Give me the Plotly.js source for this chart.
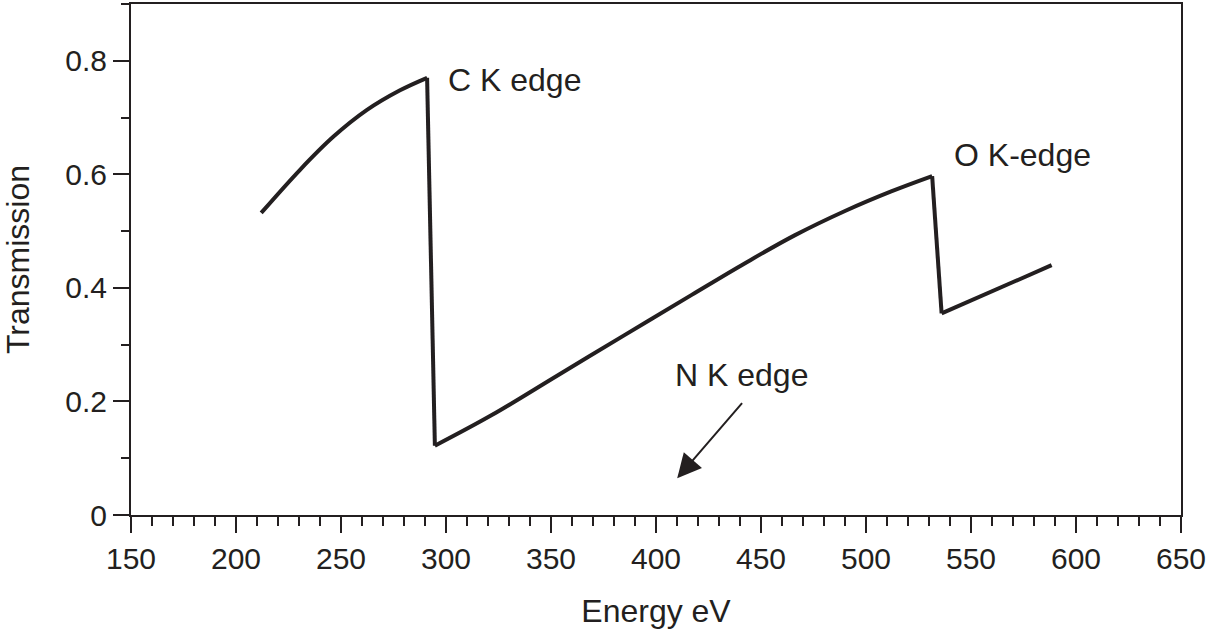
<!DOCTYPE html>
<html>
<head>
<meta charset="utf-8">
<script src="https://cdn.plot.ly/plotly-3.0.1.min.js"></script>
<style>html,body{margin:0;padding:0;background:#fff;}#chart{width:1212px;height:629px;}</style>
</head>
<body>
<div id="chart"></div>
<script>
// Segment below the C K edge
const energyPreC = [212, 230.5, 246.3, 262.2, 278.1, 291];
const transPreC  = [0.532, 0.608, 0.666, 0.713, 0.748, 0.770];
// Segment between the C and O K edges
const energyMid = [294.7, 321.8, 353.5, 385.2, 417.0, 442.4, 466, 490, 512, 531.5];
const transMid  = [0.122, 0.176, 0.2467, 0.3172, 0.3877, 0.4435, 0.4925, 0.5355, 0.570, 0.597];
// Segment above the O K edge
const energyPostO = [536.0, 588.4];
const transPostO  = [0.355, 0.440];

const labelText = ["C K edge", "O K-edge", "N K edge"];
const labelX = [300, 541, 408];
const labelY = [0.767, 0.634, 0.2467];
const arrowTip = [410.1, 0.0647];
const arrowTail = [441.6, 0.1997];

const ink = "#231f20";
const fontFam = "Liberation Sans, Arial, Helvetica, sans-serif";
const lineStyle = {color: ink, width: 4};

function seg(x, y, shape) {
  return {x: x, y: y, type: "scatter", mode: "lines",
          line: Object.assign({shape: shape}, lineStyle), hoverinfo: "skip"};
}
const last = a => a[a.length - 1];

const traces = [
  seg(energyPreC, transPreC, "spline"),
  seg([last(energyPreC), energyMid[0]], [last(transPreC), transMid[0]], "linear"),
  seg(energyMid, transMid, "spline"),
  seg([last(energyMid), energyPostO[0]], [last(transMid), transPostO[0]], "linear"),
  seg(energyPostO, transPostO, "linear")
];

const annotations = labelText.map((t, i) => ({
  x: labelX[i], y: labelY[i], xref: "x", yref: "y", text: t, showarrow: false,
  xanchor: "left", yanchor: "middle", font: {family: fontFam, size: 32, color: ink}
}));
annotations.push({
  x: arrowTip[0], y: arrowTip[1], ax: arrowTail[0], ay: arrowTail[1],
  xref: "x", yref: "y", axref: "x", ayref: "y", text: "", showarrow: true,
  arrowhead: 2, arrowsize: 2.4, arrowwidth: 2, arrowcolor: ink
});

const layout = {
  width: 1212, height: 629,
  margin: {l: 131, r: 31, t: 4, b: 114},
  paper_bgcolor: "#fff", plot_bgcolor: "#fff",
  showlegend: false,
  font: {family: fontFam, color: ink},
  xaxis: {
    range: [150, 650], dtick: 50, tick0: 150, ticks: "outside", ticklen: 16, tickwidth: 2,
    tickcolor: ink, showline: true, linecolor: ink, linewidth: 2, mirror: true,
    showgrid: false, zeroline: false,
    minor: {dtick: 10, ticks: "outside", ticklen: 9, tickwidth: 2, tickcolor: ink, showgrid: false},
    tickfont: {family: fontFam, size: 30, color: ink},
    title: {text: "Energy eV", font: {family: fontFam, size: 32, color: ink}, standoff: 26}
  },
  yaxis: {
    range: [0, 0.9], dtick: 0.2, tick0: 0, ticks: "outside", ticklen: 16, tickwidth: 2,
    tickcolor: ink, showline: true, linecolor: ink, linewidth: 2, mirror: true,
    showgrid: false, zeroline: false,
    minor: {dtick: 0.1, ticks: "outside", ticklen: 8, tickwidth: 2, tickcolor: ink, showgrid: false},
    tickfont: {family: fontFam, size: 30, color: ink},
    title: {text: "Transmission", font: {family: fontFam, size: 32, color: ink}, standoff: 27}
  },
  annotations: annotations
};

Plotly.newPlot("chart", traces, layout, {displayModeBar: false, staticPlot: true});
</script>
</body>
</html>
